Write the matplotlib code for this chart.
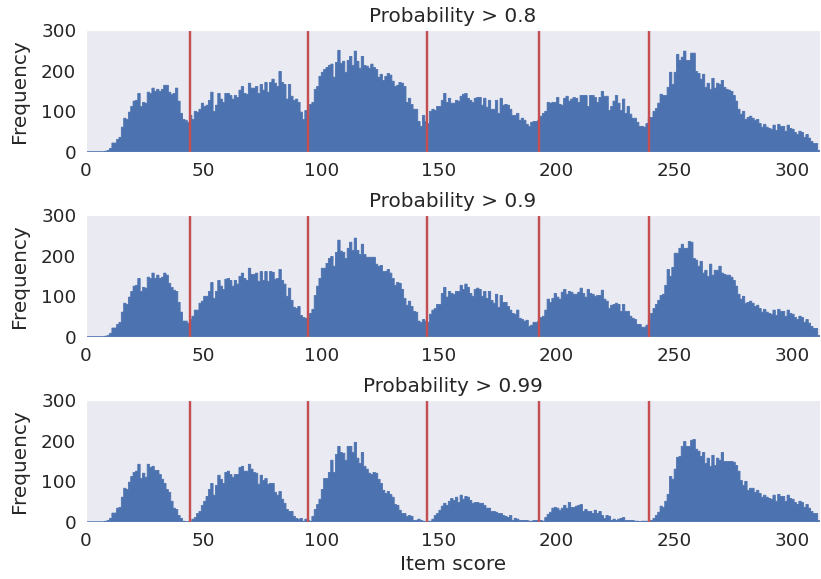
import numpy as np
import matplotlib
matplotlib.use('Agg')
import matplotlib.pyplot as plt
import seaborn as sns

# histogram counts per unit-wide score bin, first bin starts at score 8
counts_08 = [2, 4, 9, 22, 22, 31, 36, 61, 83, 80, 98, 112, 125, 127, 144, 112, 122, 120, 147, 144,
             157, 149, 154, 149, 154, 164, 164, 147, 142, 144, 157, 125, 95, 80, 78, 73,
             90, 80, 100, 98, 105, 120, 112, 115, 127, 147, 100, 115, 144, 130, 122, 144, 144, 139,
             130, 139, 134, 152, 161, 144, 142, 169, 157, 157, 161, 144, 166, 152, 171, 147, 171, 179,
             169, 161, 198, 171, 166, 130, 166, 137, 127, 130, 122, 98, 80, 102, 90, 117, 122, 154,
             161, 186, 196, 203, 208, 213, 216, 184, 220, 250, 218, 223, 196, 225, 235, 213, 248, 223,
             206, 235, 213, 211, 206, 216, 208, 203, 184, 191, 176, 186, 193, 189, 174, 161, 164, 171,
             169, 161, 122, 132, 117, 105, 105, 75, 63, 90, 75, 70, 100, 105, 102, 112, 112, 127,
             144, 122, 132, 120, 120, 127,
             125, 137, 142, 144, 132, 127, 122, 132, 134, 134, 115, 132, 110, 127, 105, 105, 127, 95,
             132, 115, 117, 115, 105, 90, 90, 95, 78, 83, 78, 68, 63, 73, 75, 75, 78, 88, 95, 100,
             122, 120, 122, 122, 134, 117, 115, 132, 137, 125, 130, 134, 132, 122, 139, 139, 139, 112,
             139, 139, 134, 122, 134, 149, 137, 137, 102, 112, 125, 139, 120, 102, 130, 95, 112, 93,
             83, 83, 73, 63, 63,
             61, 70, 84, 85, 100, 107, 120, 142, 139, 139, 159, 196, 166, 196, 240, 225, 233, 248,
             225, 225, 243, 243, 198, 193, 179, 191, 159, 169, 154, 181, 157, 169, 166, 176, 159, 154,
             152, 149, 139, 125, 105, 93, 100, 80, 85, 88, 83, 78, 80, 70, 61, 68, 61, 58, 56, 66,
             53, 68, 63, 63, 51, 66, 58, 56, 48, 43, 51, 48, 36, 43, 34, 26, 21, 21, 4]

counts_09 = [2, 4, 9, 22, 22, 31, 36, 61, 83, 80, 98, 112, 125, 127, 144, 112, 122, 120, 147, 144,
             157, 144, 152, 144, 147, 157, 152, 132, 122, 115, 112, 85, 61, 39, 39, 34,
             43, 51, 66, 66, 83, 88, 100, 100, 112, 134, 95, 112, 139, 125, 117, 142, 144, 139,
             125, 139, 130, 149, 157, 144, 139, 169, 154, 154, 157, 137, 161, 139, 161, 137, 161, 159,
             142, 144, 166, 139, 130, 100, 120, 90, 73, 70, 75, 53, 48, 46, 48, 58, 68, 102,
             125, 144, 169, 169, 181, 193, 198, 174, 208, 238, 211, 208, 193, 218, 233, 213, 243, 213,
             203, 228, 203, 196, 196, 196, 196, 179, 174, 176, 161, 161, 166, 157, 144, 127, 134, 132,
             117, 95, 78, 88, 75, 63, 61, 39, 36, 43, 39, 36, 56, 66, 70, 80, 80, 107,
             122, 98, 112, 107, 105, 112,
             112, 127, 117, 130, 122, 107, 100, 117, 120, 117, 100, 112, 95, 112, 90, 83, 105, 73,
             102, 85, 85, 75, 66, 58, 56, 66, 46, 43, 39, 41, 26, 29, 36, 36, 39, 48, 51, 66,
             93, 85, 95, 107, 98, 93, 110, 117, 105, 112, 110, 105, 105, 110, 120, 107, 98, 117,
             107, 105, 100, 102, 102, 115, 93, 88, 70, 78, 80, 83, 80, 63, 80, 63, 63, 51,
             46, 43, 31, 31, 24,
             24, 29, 41, 58, 70, 80, 90, 102, 105, 127, 166, 149, 171, 206, 206, 218, 228, 218,
             218, 235, 233, 193, 189, 174, 186, 157, 164, 149, 179, 152, 164, 164, 174, 157, 154, 152,
             152, 147, 139, 125, 105, 93, 100, 83, 85, 88, 83, 75, 78, 70, 61, 68, 61, 58, 56, 66,
             53, 68, 63, 63, 51, 66, 58, 56, 48, 43, 51, 48, 36, 43, 34, 26, 21, 21, 4]

counts_099 = [2, 4, 9, 22, 22, 34, 36, 61, 83, 80, 98, 112, 122, 125, 142, 107, 120, 110, 142, 134,
              137, 127, 127, 117, 105, 95, 80, 73, 51, 34, 31, 16, 9, 2, 0, 1,
              2, 7, 11, 21, 26, 41, 51, 63, 80, 95, 66, 90, 115, 105, 95, 122, 125, 117,
              110, 117, 117, 134, 137, 125, 125, 142, 130, 122, 120, 93, 115, 102, 107, 93, 95, 95,
              73, 66, 75, 56, 46, 31, 26, 26, 14, 9, 7, 9, 2, 7, 4, 2, 14, 31,
              43, 56, 80, 107, 107, 122, 152, 122, 166, 186, 171, 169, 152, 186, 186, 171, 196, 157,
              144, 171, 137, 130, 120, 117, 122, 120, 105, 95, 78, 70, 75, 68, 61, 43, 41, 29,
              21, 21, 14, 16, 14, 4, 4, 7, 4, 2, 0, 2, 2, 7, 16, 21, 29, 39,
              46, 41, 51, 58, 53, 61,
              48, 66, 56, 63, 61, 53, 46, 48, 48, 46, 46, 41, 34, 34, 26, 26, 24, 21,
              21, 16, 14, 11, 16, 4, 9, 7, 4, 4, 4, 4, 2, 2, 4, 4, 0, 4,
              2, 11, 19, 24, 34, 36, 34, 29, 34, 41, 34, 48, 36, 36, 39, 41, 43, 26,
              31, 26, 26, 21, 29, 21, 26, 16, 9, 16, 14, 4, 7, 4, 7, 9, 11, 4,
              4, 4, 4, 2, 2, 0, 2,
              2, 2, 2, 4, 9, 16, 24, 39, 36, 51, 68, 112, 105, 130, 159, 161, 186, 198,
              186, 186, 201, 203, 179, 174, 161, 171, 144, 157, 137, 164, 139, 157, 152, 171, 149, 149,
              149, 149, 147, 139, 125, 102, 90, 100, 78, 83, 83, 73, 78, 70, 61, 66, 61, 58, 56, 66,
              51, 68, 63, 63, 51, 66, 58, 56, 48, 43, 51, 48, 36, 43, 34, 26, 21, 21, 4]

titles = ['Probability > 0.8', 'Probability > 0.9', 'Probability > 0.99']
cut_points = [44, 94.5, 145, 192.5, 239.5]
first_bin = 8

sns.set_style('dark')
plt.rcParams['font.family'] = ['DejaVu Sans']

fig = plt.figure(figsize=(8.21, 5.79), dpi=100)
bottoms = [0.7375, 0.418, 0.0984]

for i, (counts, title) in enumerate(zip([counts_08, counts_09, counts_099], titles)):
    ax = fig.add_axes([0.1048, bottoms[i], 0.894, 0.2107])
    counts = np.array(counts, dtype=float)
    # leading empty bins from 0 up to the first score
    counts = np.concatenate([np.zeros(first_bin), counts])
    edges = np.arange(len(counts) + 1)
    centers = edges[:-1] + 0.5
    ax.hist(centers, bins=edges, weights=counts, histtype='stepfilled',
            color='#4C72B0', ec='#4C72B0', lw=0.6)
    for x in cut_points:
        ax.axvline(x, color='#C44E52', lw=1.75)
    ax.set_xlim(0, 312)
    ax.set_ylim(0, 300)
    ax.set_yticks([0, 100, 200, 300])
    ax.set_xticks(range(0, 301, 50))
    ax.tick_params(labelsize=13.2)
    ax.set_title(title, fontsize=14.4)
    ax.set_ylabel('Frequency', fontsize=14.4, labelpad=9)
    if i == 2:
        ax.set_xlabel('Item score', fontsize=14.4)

plt.savefig('out.png', dpi=100)
